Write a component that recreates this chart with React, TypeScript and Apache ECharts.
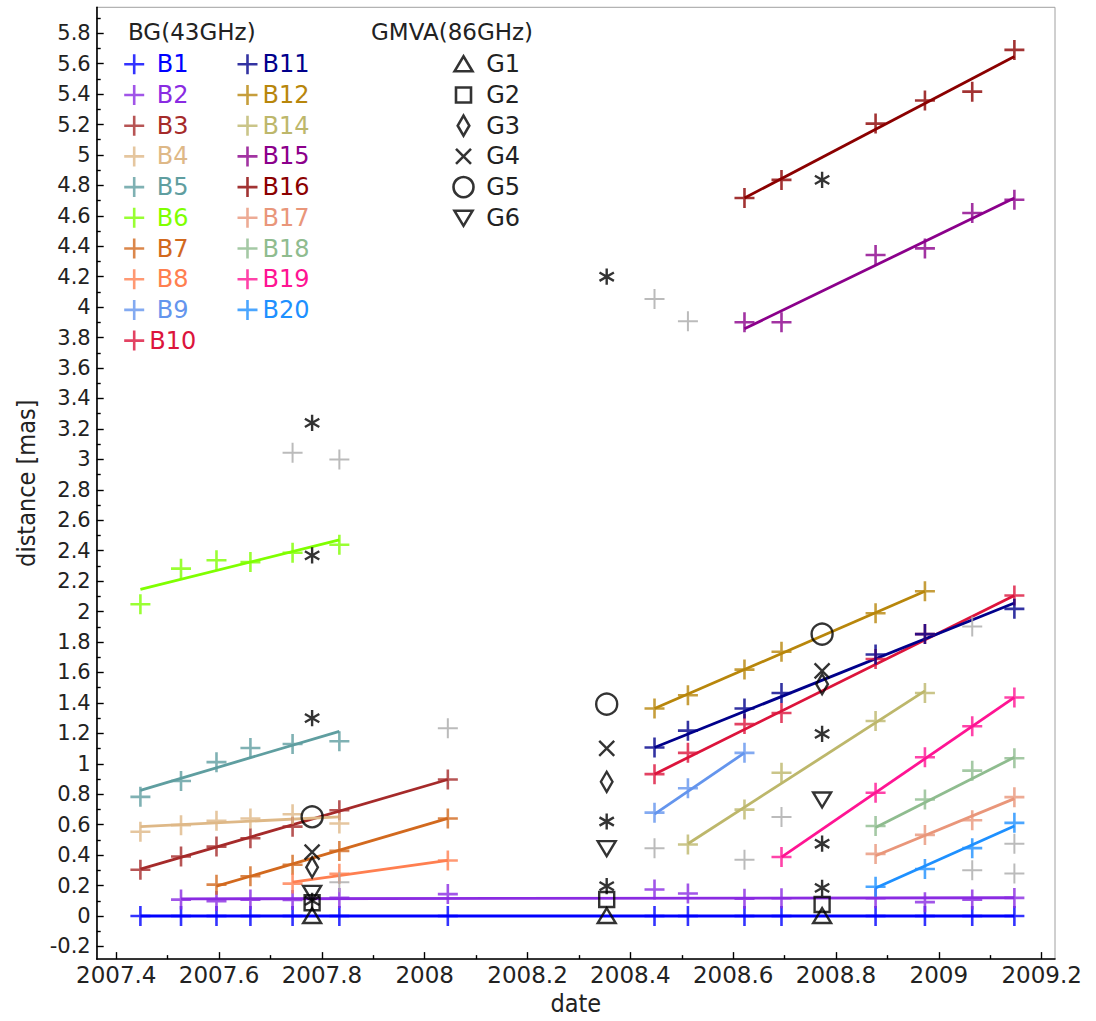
import React, { useEffect, useRef } from "react";
import * as echarts from "echarts";

// ---------- data ----------
const bgEpochs = [2007.447, 2007.526, 2007.595, 2007.661, 2007.743, 2007.834, 2008.045, 2008.447, 2008.512, 2008.622, 2008.694, 2008.877, 2008.973, 2009.065, 2009.147];
const gmvaEpochs = [2007.781, 2008.354, 2008.773];

const _ = null;
// distance [mas] per BG epoch (null = component not detected)
const B1 = [0, 0, 0, 0, 0, 0, 0, 0, 0, 0, 0, 0, 0, 0, 0];
const B2 = [_, 0.108, 0.098, 0.108, 0.105, 0.119, 0.144, 0.174, 0.148, 0.113, 0.117, 0.117, 0.091, 0.108, 0.119];
const B3 = [0.304, 0.391, 0.456, 0.511, 0.587, 0.695, 0.897, _, _, _, _, _, _, _, _];
const B4 = [0.554, 0.597, 0.626, 0.641, 0.669, 0.608, _, _, _, _, _, _, _, _, _];
const B5 = [0.783, 0.887, 1.011, 1.104, 1.13, 1.148, _, _, _, _, _, _, _, _, _];
const B6 = [2.048, 2.282, 2.337, 2.325, 2.387, 2.439, _, _, _, _, _, _, _, _, _];
const B7 = [_, _, 0.206, 0.261, 0.337, 0.428, 0.641, _, _, _, _, _, _, _, _];
const B8 = [_, _, _, _, 0.213, 0.278, 0.365, _, _, _, _, _, _, _, _];
const B9 = [_, _, _, _, _, _, _, 0.679, 0.839, 1.072, _, _, _, _, _];
const B10 = [_, _, _, _, _, _, _, 0.932, 1.072, 1.261, 1.334, 1.689, 1.852, _, 2.106];
const B11 = [_, _, _, _, _, _, _, 1.107, 1.218, 1.363, 1.465, 1.718, 1.852, _, 2.018];
const B12 = [_, _, _, _, _, _, _, 1.363, 1.45, 1.619, 1.736, 1.989, 2.134, _, _];
const B14 = [_, _, _, _, _, _, _, _, 0.47, 0.699, 0.941, 1.281, 1.465, _, _];
const B15 = [_, _, _, _, _, _, _, _, _, 3.901, 3.901, 4.343, 4.386, 4.619, 4.706];
const B16 = [_, _, _, _, _, _, _, _, _, 4.717, 4.836, 5.206, 5.358, 5.416, 5.69];
const B17 = [_, _, _, _, _, _, _, _, _, _, _, 0.408, 0.533, 0.629, 0.781];
const B18 = [_, _, _, _, _, _, _, _, _, _, _, 0.591, 0.766, 0.955, 1.037];
const B19 = [_, _, _, _, _, _, _, _, _, _, 0.388, 0.81, 1.043, 1.247, 1.436];
const B20 = [_, _, _, _, _, _, _, _, _, _, _, 0.192, 0.309, 0.446, 0.612];

// linear fits: [start, end] as [date, distance]
const fitB1 = [[2007.447, 0], [2009.147, 0]];
const fitB2 = [[2007.526, 0.113], [2009.147, 0.12]];
const fitB3 = [[2007.447, 0.308], [2008.045, 0.897]];
const fitB4 = [[2007.447, 0.587], [2007.834, 0.652]];
const fitB5 = [[2007.447, 0.826], [2007.834, 1.213]];
const fitB6 = [[2007.447, 2.146], [2007.834, 2.471]];
const fitB7 = [[2007.595, 0.196], [2008.045, 0.641]];
const fitB8 = [[2007.743, 0.222], [2008.045, 0.365]];
const fitB9 = [[2008.447, 0.67], [2008.622, 1.072]];
const fitB10 = [[2008.447, 0.932], [2009.147, 2.106]];
const fitB11 = [[2008.447, 1.107], [2009.147, 2.056]];
const fitB12 = [[2008.447, 1.363], [2008.973, 2.134]];
const fitB14 = [[2008.512, 0.475], [2008.973, 1.479]];
const fitB15 = [[2008.622, 3.858], [2009.147, 4.717]];
const fitB16 = [[2008.622, 4.717], [2009.147, 5.647]];
const fitB17 = [[2008.877, 0.396], [2009.147, 0.771]];
const fitB18 = [[2008.877, 0.582], [2009.147, 1.043]];
const fitB19 = [[2008.694, 0.387], [2009.147, 1.436]];
const fitB20 = [[2008.877, 0.184], [2009.147, 0.591]];

// unassigned BG components (grey)
const greyPoints = [
  [2007.743, 3.043], [2007.834, 3.0], [2007.834, 0.222], [2008.045, 1.234],
  [2008.447, 4.054], [2008.512, 3.908], [2008.447, 0.445], [2008.622, 0.37],
  [2008.694, 0.65], [2009.065, 0.301], [2009.065, 1.902], [2009.147, 0.475], [2009.147, 0.28],
];

// GMVA components per GMVA epoch
const G1 = [0, 0, 0];
const G2 = [0.087, 0.109, 0.076];
const G3 = [0.32, 0.882, 1.523];
const G4 = [0.42, 1.101, 1.611];
const G5 = [0.652, 1.392, 1.852];
const G6 = [0.152, 0.446, 0.766];
const gmvaOther = [
  [2007.781, 3.24], [2007.781, 2.369], [2007.781, 1.3], [2007.781, 0.1],
  [2008.354, 4.2], [2008.354, 0.621], [2008.354, 0.196],
  [2008.773, 4.836], [2008.773, 1.197], [2008.773, 0.475], [2008.773, 0.185],
];

const bNames = ["B1", "B2", "B3", "B4", "B5", "B6", "B7", "B8", "B9", "B10", "B11", "B12", "B14", "B15", "B16", "B17", "B18", "B19", "B20"];
const bValues = [B1, B2, B3, B4, B5, B6, B7, B8, B9, B10, B11, B12, B14, B15, B16, B17, B18, B19, B20];
const bFits = [fitB1, fitB2, fitB3, fitB4, fitB5, fitB6, fitB7, fitB8, fitB9, fitB10, fitB11, fitB12, fitB14, fitB15, fitB16, fitB17, fitB18, fitB19, fitB20];
const bColors = ["#0000ff", "#8a2be2", "#a52a2a", "#deb887", "#5f9ea0", "#7fff00", "#d2691e", "#ff7f50", "#6495ed", "#dc143c", "#00008b", "#b8860b", "#bdb76b", "#8b008b", "#8b0000", "#e9967a", "#8fbc8f", "#ff1493", "#1e90ff"];

const gNames = ["G1", "G2", "G3", "G4", "G5", "G6"];
const gValues = [G1, G2, G3, G4, G5, G6];

const xMajor = [2007.4, 2007.6, 2007.8, 2008, 2008.2, 2008.4, 2008.6, 2008.8, 2009, 2009.2];
const xMinor = [2007.5, 2007.7, 2007.9, 2008.1, 2008.3, 2008.5, 2008.7, 2008.9, 2009.1];
const yMajor = [-0.2, 0, 0.2, 0.4, 0.6, 0.8, 1, 1.2, 1.4, 1.6, 1.8, 2, 2.2, 2.4, 2.6, 2.8, 3, 3.2, 3.4, 3.6, 3.8, 4, 4.2, 4.4, 4.6, 4.8, 5, 5.2, 5.4, 5.6, 5.8];
const yMinor = [-0.1, 0.1, 0.3, 0.5, 0.7, 0.9, 1.1, 1.3, 1.5, 1.7, 1.9, 2.1, 2.3, 2.5, 2.7, 2.9, 3.1, 3.3, 3.5, 3.7, 3.9, 4.1, 4.3, 4.5, 4.7, 4.9, 5.1, 5.3, 5.5, 5.7, 5.9];

const X_MIN = 2007.362;
const X_MAX = 2009.226;
const Y_MIN = -0.283;
const Y_MAX = 5.97;

// ---------- symbols ----------
const CROSS = "path://M0,10L20,10M10,0L10,20";
const STAR = "path://M0,0M20,20M10,1L10,19M2,5.4L18,14.6M2,14.6L18,5.4";
const gSymbols = [
  "path://M0,0M20,20M1,17L10,2L19,17Z",
  "path://M0,0M20,20M2.5,2.5L17.5,2.5L17.5,17.5L2.5,17.5Z",
  "path://M0,0M20,20M10,0L15.8,10L10,20L4.2,10Z",
  "path://M0,0M20,20M2.5,2.5L17.5,17.5M17.5,2.5L2.5,17.5",
  "circle",
  "path://M0,0M20,20M1,3L19,3L10,18Z",
];
const gSizes = [20, 20, 20, 20, 21, 20];

const fmt = (v: number) => String(parseFloat(v.toFixed(1)));
const FONT = "DejaVu Sans";
const NARROW = '"Liberation Sans Narrow", "DejaVu Sans Condensed", "Liberation Sans", sans-serif';

function buildOption() {
  const series: any[] = [];
  bNames.forEach((n, i) => {
    series.push({
      name: n + " fit",
      type: "line",
      data: bFits[i],
      showSymbol: false,
      symbol: "none",
      lineStyle: { color: bColors[i], width: 2.8 },
      emphasis: { disabled: true },
      silent: true,
      z: 2,
    });
  });
  bNames.forEach((n, i) => {
    const pts: number[][] = [];
    bValues[i].forEach((v, k) => {
      if (v !== null) pts.push([bgEpochs[k], v as number]);
    });
    series.push({
      name: n,
      type: "scatter",
      data: pts,
      symbol: CROSS,
      symbolSize: 20,
      itemStyle: { color: "none", borderColor: bColors[i], borderWidth: 2.6 },
      emphasis: { disabled: true },
      silent: true,
      z: 3,
    });
  });
  series.push({
    name: "unassigned",
    type: "scatter",
    data: greyPoints,
    symbol: CROSS,
    symbolSize: 20,
    itemStyle: { color: "none", borderColor: "#aaaaaa", borderWidth: 2 },
    emphasis: { disabled: true },
    silent: true,
    z: 3,
  });
  gNames.forEach((n, i) => {
    series.push({
      name: n,
      type: "scatter",
      data: gValues[i].map((v, k) => [gmvaEpochs[k], v]),
      symbol: gSymbols[i],
      symbolSize: gSizes[i],
      itemStyle: { color: "none", borderColor: "#000", borderWidth: 2.4 },
      emphasis: { disabled: true },
      silent: true,
      z: 4,
    });
  });
  series.push({
    name: "GMVA other",
    type: "scatter",
    data: gmvaOther,
    symbol: STAR,
    symbolSize: 18,
    itemStyle: { color: "none", borderColor: "#000", borderWidth: 2.4 },
    emphasis: { disabled: true },
    silent: true,
    z: 4,
  });

  const legendCommon = {
    orient: "vertical",
    top: 51.8,
    padding: 0,
    itemGap: 5.7,
    itemWidth: 20,
    itemHeight: 20,
    selectedMode: false,
    formatter: (name: string) => (name.length === 2 ? " " + name : name),
    textStyle: { fontSize: 24, fontFamily: FONT, lineHeight: 20, color: "#222" },
    itemStyle: { borderWidth: 2.6 },
  };
  const legItem = (n: string) => ({ name: n, textStyle: { color: bColors[bNames.indexOf(n)] } });

  const axisLineStyle = { color: "#000", width: 1.6 };
  const tickStyle = { color: "#000", width: 1.4 };

  return {
    animation: false,
    backgroundColor: "#fff",
    grid: { left: 96.7, top: 7.3, right: 41, bottom: 54.3, show: true, borderColor: "#a0a0a0", borderWidth: 1 },
    xAxis: [
      {
        type: "value", min: X_MIN, max: X_MAX, position: "bottom",
        axisLine: { show: true, onZero: false, lineStyle: axisLineStyle },
        axisTick: { show: true, inside: true, length: 7, customValues: xMajor, lineStyle: tickStyle },
        axisLabel: { customValues: xMajor, formatter: fmt, fontSize: 23, fontFamily: FONT, color: "#222", margin: 4 },
        splitLine: { show: false },
        name: "date", nameLocation: "middle", nameGap: 27,
        nameTextStyle: { fontSize: 25, fontFamily: NARROW, color: "#222" },
      },
      {
        type: "value", min: X_MIN, max: X_MAX, position: "bottom",
        axisLine: { show: false, onZero: false },
        axisTick: { show: true, inside: true, length: 4, customValues: xMinor, lineStyle: tickStyle },
        axisLabel: { show: false },
        splitLine: { show: false },
      },
    ],
    yAxis: [
      {
        type: "value", min: Y_MIN, max: Y_MAX, position: "left",
        axisLine: { show: true, onZero: false, lineStyle: axisLineStyle },
        axisTick: { show: true, inside: true, length: 7, customValues: yMajor, lineStyle: tickStyle },
        axisLabel: { customValues: yMajor, formatter: fmt, fontSize: 21, fontFamily: FONT, color: "#222", margin: 6 },
        splitLine: { show: false },
        name: "distance [mas]", nameLocation: "middle", nameGap: 58,
        nameTextStyle: { fontSize: 25, fontFamily: NARROW, color: "#222" },
      },
      {
        type: "value", min: Y_MIN, max: Y_MAX, position: "left",
        axisLine: { show: false, onZero: false },
        axisTick: { show: true, inside: true, length: 4, customValues: yMinor, lineStyle: tickStyle },
        axisLabel: { show: false },
        splitLine: { show: false },
      },
    ],
    legend: [
      { ...legendCommon, left: 121.7, data: bNames.slice(0, 10).map(legItem) },
      { ...legendCommon, left: 235, data: bNames.slice(10).map(legItem) },
      { ...legendCommon, left: 451, data: gNames.map((n) => ({ name: n, textStyle: { color: "#222" } })) },
    ],
    graphic: [
      { type: "text", x: 128, y: 31.7, style: { text: "BG(43GHz)", fill: "#222", font: `23px "${FONT}"`, verticalAlign: "middle" } },
      { type: "text", x: 371, y: 31.7, style: { text: "GMVA(86GHz)", fill: "#222", font: `23px "${FONT}"`, verticalAlign: "middle" } },
    ],
    series,
  };
}

export default function App() {
  const ref = useRef<HTMLDivElement>(null);
  useEffect(() => {
    document.body.style.margin = "0";
    const chart = echarts.init(ref.current!, null, { renderer: "svg" });
    chart.setOption(buildOption() as any);
    return () => chart.dispose();
  }, []);
  return <div ref={ref} style={{ width: 1096, height: 1021, background: "#fff" }} />;
}
